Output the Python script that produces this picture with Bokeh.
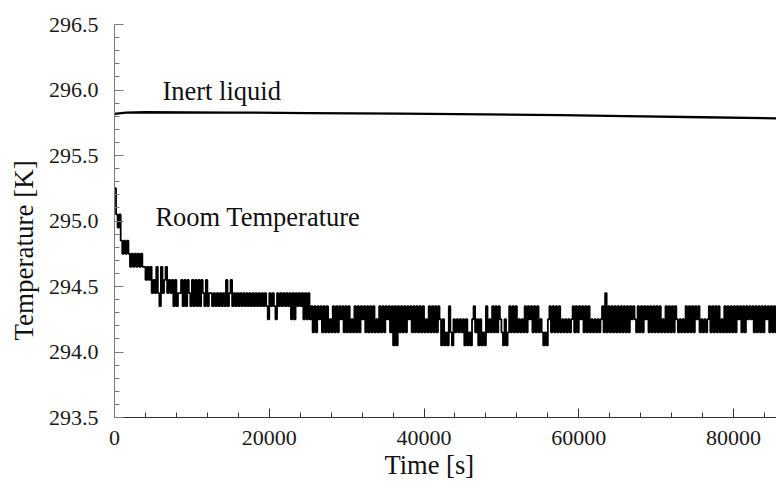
from bokeh.plotting import figure
from bokeh.models import FixedTicker, Label, Range1d, PrintfTickFormatter, Title
from bokeh.embed import file_html
from bokeh.resources import INLINE

# ---------------- data ----------------
# Inert liquid temperature [K] vs time [s]
INERT_T = [0, 1500, 4000, 15000, 25000, 37000, 48000, 57700, 66000, 76000, 86000]
INERT_K = [295.817, 295.828, 295.830, 295.828, 295.824, 295.819, 295.814,
           295.808, 295.800, 295.792, 295.783]

# Room temperature: sensor readings every 200 s, quantised in 0.1 K steps.
# Each character is one reading, an index into ROOM_LEVEL_K.
ROOM_DT = 200
ROOM_LEVEL_CODES = "0123456789ABC"
ROOM_LEVEL_K = [294.05, 294.15, 294.25, 294.35, 294.45, 294.55, 294.65,
                294.75, 294.85, 294.95, 295.05, 295.15, 295.25]
ROOM_READINGS = [
    "CA9A878787", "6767676766", "5656", "4546436456454",
    "5353445353543535353543534",
    "434343434353453", "4343434343434343434343", "2434324", "34343434",
    "2424", "3434", "242423",
    "1313231313", "1213131323", "1313121313", "1323131313", "1213131323", "13",
    "0303",
    "1313132313", "1313131213", "131313",
    "2020103102", "1212120201", "0231202010", "3121",
    "31313", "210201", "313131", "2121", "3132313131", "210102",
    "31313131", "2121212", "313132313131", "2121212",
    "314131313131313131", "3232",
    "1313132313", "1313131213", "131313",
    "212121", "3131313231", "21212",
    "313131312131", "313131323131",
    "32323", "1313131", "323", "13131313",
]
room_codes = "".join(ROOM_READINGS)
room_t = [i * ROOM_DT for i in range(len(room_codes))]
room_k = [ROOM_LEVEL_K[ROOM_LEVEL_CODES.index(c)] for c in room_codes]

X_TICKS = [0, 20000, 40000, 60000, 80000]
X_MINOR = [0, 4000, 8000, 12000, 16000, 20000, 24000, 28000, 32000, 36000,
           40000, 44000, 48000, 52000, 56000, 60000, 64000, 68000, 72000,
           76000, 80000, 84000]
Y_TICKS = [293.5, 294.0, 294.5, 295.0, 295.5, 296.0, 296.5]
Y_MINOR = [293.5, 293.6, 293.7, 293.8, 293.9, 294.0, 294.1, 294.2, 294.3,
           294.4, 294.5, 294.6, 294.7, 294.8, 294.9, 295.0, 295.1, 295.2,
           295.3, 295.4, 295.5, 295.6, 295.7, 295.8, 295.9, 296.0, 296.1,
           296.2, 296.3, 296.4, 296.5]

X_TITLE = "Time [s]"
Y_TITLE = "Temperature [K]"
INERT_NAME = "Inert liquid"
ROOM_NAME = "Room Temperature"

FONT = "Liberation Serif"

# ---------------- figure ----------------
p = figure(width=776, height=484,
           x_range=Range1d(0, 85548), y_range=Range1d(293.5, 296.5),
           output_backend="svg", toolbar_location=None,
           min_border_left=113, min_border_right=0,
           min_border_top=24, min_border_bottom=67)
p.outline_line_color = None
p.xgrid.visible = False
p.ygrid.visible = False

p.line(INERT_T, INERT_K, line_color="black", line_width=2.3)
p.step(room_t, room_k, mode="after", line_color="black", line_width=1.8)

# y axis
ya = p.yaxis[0]
ya.ticker = FixedTicker(ticks=Y_TICKS, minor_ticks=Y_MINOR)
ya.formatter = PrintfTickFormatter(format="%.1f")
ya.axis_line_color = "#7a7a7a"
ya.major_tick_line_color = "#7a7a7a"
ya.minor_tick_line_color = "#7a7a7a"
ya.major_tick_in = 9
ya.major_tick_out = 0
ya.minor_tick_in = 5
ya.minor_tick_out = 0
ya.major_label_standoff = 16
ya.major_label_text_font = FONT
ya.major_label_text_font_size = "22px"
ya.major_label_text_color = "#1a1a1a"

# x axis
xa = p.xaxis[0]
xa.ticker = FixedTicker(ticks=X_TICKS, minor_ticks=X_MINOR)
xa.formatter = PrintfTickFormatter(format="%d")
xa.axis_line_color = "#333333"
xa.major_tick_line_color = "#333333"
xa.minor_tick_line_color = "#333333"
xa.major_tick_in = 9
xa.major_tick_out = 0
xa.minor_tick_in = 5
xa.minor_tick_out = 0
xa.major_label_standoff = 13
xa.major_label_text_font = FONT
xa.major_label_text_font_size = "22px"
xa.major_label_text_color = "#1a1a1a"

# axis titles (side panels, so they are not clipped)
p.add_layout(Title(text=Y_TITLE, align="left", offset=77, standoff=13,
                   text_font=FONT, text_font_size="27px",
                   text_font_style="normal", text_color="#111111"), "left")
p.add_layout(Title(text=X_TITLE, align="left", offset=270, standoff=0,
                   text_font=FONT, text_font_size="26.5px",
                   text_font_style="normal", text_color="#111111"), "below")

# series annotations
p.add_layout(Label(x=6190, y=295.996, text=INERT_NAME,
                   text_align="left", text_baseline="alphabetic",
                   text_font=FONT, text_font_size="26.5px", text_color="#111111"))
p.add_layout(Label(x=5290, y=295.033, text=ROOM_NAME,
                   text_align="left", text_baseline="alphabetic",
                   text_font=FONT, text_font_size="26.5px", text_color="#111111"))

open("out.html", "w").write(file_html(p, INLINE))
